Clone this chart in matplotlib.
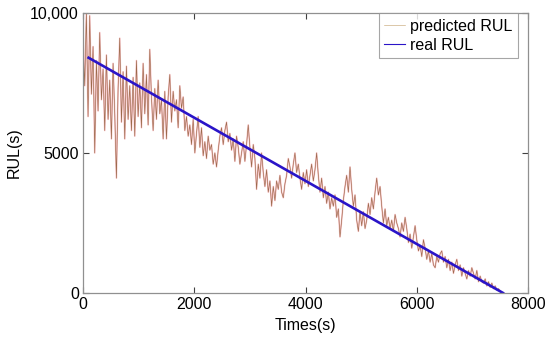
import numpy as np
import matplotlib
matplotlib.use('Agg')
import matplotlib.pyplot as plt

plt.rcParams['font.family'] = ['Liberation Sans', 'DejaVu Sans']

t_step = 30
pred_rul = [
    9000, 7400, 10000, 6300, 9900, 7100, 8800, 5000, 8300, 6500,
    9300, 6900, 8000, 5800, 8500, 6200, 7600, 5500, 8200, 6400,
    4100, 7300, 9100, 6100, 7900, 5500, 8100, 6200, 7400, 5800,
    7700, 5600, 8300, 6300, 7500, 5900, 8200, 6400, 7800, 6000,
    8700, 7000, 5800, 7300, 6200, 7600, 6400, 6900, 5500, 7200,
    5500, 7000, 7800, 6100, 7200, 6500, 6900, 5900, 7400, 6600,
    7000, 5800, 6300, 5600, 6000, 5300, 6200, 5000, 5700, 6300,
    5200, 5900, 4900, 5400, 4800, 5600, 5100, 5300, 4600, 5000,
    4500, 5100, 5600, 5900, 5300, 5800, 6100, 5400, 5700, 5100,
    5500, 4700, 5600, 5200, 4600, 5000, 5400, 4700, 5300, 6000,
    5200, 4500, 5300, 4800, 3700, 4600, 4100, 5000, 4300, 3800,
    4400, 3600, 4000, 3100, 3800, 3300, 4000, 3700, 4200, 3600,
    3400, 3900, 4200, 4800, 4500, 4100, 4600, 5000, 4300, 4600,
    4100, 3700, 4300, 3900, 4400, 3800, 4200, 4600, 4000, 4400,
    5000, 4200, 3600, 4100, 3400, 3800, 3200, 3600, 3000, 3400,
    3100, 3500, 2700, 3000, 2000, 2600, 3300, 3800, 4200, 3600,
    4500, 3700, 3100, 3500, 2600, 2200, 2900, 2400, 2900, 2300,
    2600, 3200, 2800, 3400, 3000, 3600, 4100, 3500, 3800, 3100,
    2500, 3000, 2400, 2700, 2300, 2600, 2200, 2800, 2500, 2300,
    2000, 2500, 2200, 2700, 2300, 1800, 2100, 1600, 2000, 2400,
    1900, 1500, 1700, 1300, 1900, 1600, 1200, 1500, 1100, 1400,
    1000, 900, 1300, 1100, 1400, 1500, 1100, 1300, 900, 1200,
    800, 1100, 700, 1000, 1200, 800, 1000, 600, 900, 700,
    500, 800, 600, 900, 700, 500, 800, 400, 600, 400,
    350, 500, 250, 400, 200, 350, 150, 250, 100, 150,
    50, 0,
]
pred_t = np.arange(len(pred_rul)) * t_step

# real RUL: straight line
real_t = [100, 7550]
real_rul = [8400, 0]

fig = plt.figure(figsize=(5.5, 3.41), dpi=100)
ax = fig.add_axes([0.151, 0.141, 0.809, 0.821])

ax.plot(pred_t, pred_rul, color='#f04050', lw=1.2, alpha=0.3)
ax.plot(pred_t, pred_rul, color='#9a6a4a', lw=0.45, label='predicted RUL')
ax.plot(real_t, real_rul, color='#2a14c8', lw=1.9, label='real RUL')

ax.set_xlim(0, 8000)
ax.set_ylim(0, 10000)
ax.set_xticks([0, 2000, 4000, 6000, 8000])
ax.set_yticks([0, 5000, 10000])
ax.set_yticklabels(['0', '5000', '10,000'])
ax.tick_params(direction='in', top=True, right=True, length=4, width=0.8,
               color='#404040', labelsize=11.5, pad=3)
for s in ax.spines.values():
    s.set_color('#909090')
    s.set_linewidth(0.9)

ax.set_xlabel('Times(s)', fontsize=11.5, labelpad=4)
ax.set_ylabel('RUL(s)', fontsize=11.5, labelpad=6)

leg = ax.legend(loc='upper right', bbox_to_anchor=(0.977, 1.0), borderaxespad=0,
                fontsize=11.5, frameon=True, fancybox=False, handlelength=1.3,
                handletextpad=0.3, borderpad=0.35, labelspacing=0.25)
leg.get_frame().set_edgecolor('#909090')
leg.get_frame().set_linewidth(0.8)
leg.legend_handles[0].set_color('#c8a878')
leg.legend_handles[1].set_linewidth(0.8)

fig.savefig('out.png', dpi=100)
